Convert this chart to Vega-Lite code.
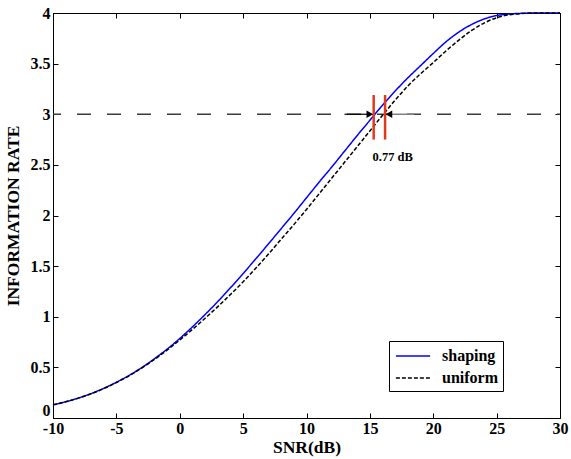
{
  "$schema": "https://vega.github.io/schema/vega-lite/v6.json",
  "width": 507,
  "height": 405,
  "autosize": {"type": "none"},
  "padding": {"left": 53, "top": 13, "right": 11, "bottom": 41},
  "background": "white",
  "config": {
    "view": {"stroke": "black", "strokeWidth": 1},
    "font": "Liberation Serif",
    "axis": {
      "grid": false,
      "domainColor": "black",
      "tickColor": "black",
      "tickSize": -5,
      "labelColor": "black",
      "labelFont": "Liberation Serif",
      "labelFontWeight": "bold",
      "labelFontSize": 16,
      "labelFlush": false,
      "labelOverlap": false,
      "labelExpr": "'' + datum.value",
      "titleFont": "Liberation Serif",
      "titleFontWeight": "bold",
      "titleFontSize": 17.5,
      "titleColor": "black"
    },
    "legend": {
      "labelFont": "Liberation Serif",
      "labelFontWeight": "bold",
      "labelFontSize": 16,
      "labelColor": "black"
    }
  },
  "resolve": {"axis": {"x": "independent", "y": "independent"}},
  "datasets": {
    "curves": [
      {"snr": -10, "rate": 0.13, "scheme": "shaping"},
      {"snr": -9, "rate": 0.16, "scheme": "shaping"},
      {"snr": -8, "rate": 0.197, "scheme": "shaping"},
      {"snr": -7, "rate": 0.241, "scheme": "shaping"},
      {"snr": -6, "rate": 0.293, "scheme": "shaping"},
      {"snr": -5, "rate": 0.353, "scheme": "shaping"},
      {"snr": -4, "rate": 0.421, "scheme": "shaping"},
      {"snr": -3, "rate": 0.498, "scheme": "shaping"},
      {"snr": -2, "rate": 0.585, "scheme": "shaping"},
      {"snr": -1, "rate": 0.68, "scheme": "shaping"},
      {"snr": 0, "rate": 0.785, "scheme": "shaping"},
      {"snr": 1, "rate": 0.9, "scheme": "shaping"},
      {"snr": 2, "rate": 1.022, "scheme": "shaping"},
      {"snr": 3, "rate": 1.15, "scheme": "shaping"},
      {"snr": 4, "rate": 1.286, "scheme": "shaping"},
      {"snr": 5, "rate": 1.427, "scheme": "shaping"},
      {"snr": 6, "rate": 1.572, "scheme": "shaping"},
      {"snr": 7, "rate": 1.72, "scheme": "shaping"},
      {"snr": 8, "rate": 1.87, "scheme": "shaping"},
      {"snr": 9, "rate": 2.02, "scheme": "shaping"},
      {"snr": 10, "rate": 2.175, "scheme": "shaping"},
      {"snr": 11, "rate": 2.33, "scheme": "shaping"},
      {"snr": 12, "rate": 2.48, "scheme": "shaping"},
      {"snr": 13, "rate": 2.635, "scheme": "shaping"},
      {"snr": 14, "rate": 2.79, "scheme": "shaping"},
      {"snr": 15, "rate": 2.94, "scheme": "shaping"},
      {"snr": 16, "rate": 3.09, "scheme": "shaping"},
      {"snr": 17, "rate": 3.23, "scheme": "shaping"},
      {"snr": 18, "rate": 3.36, "scheme": "shaping"},
      {"snr": 19, "rate": 3.48, "scheme": "shaping"},
      {"snr": 20, "rate": 3.6, "scheme": "shaping"},
      {"snr": 21, "rate": 3.715, "scheme": "shaping"},
      {"snr": 22, "rate": 3.81, "scheme": "shaping"},
      {"snr": 23, "rate": 3.885, "scheme": "shaping"},
      {"snr": 24, "rate": 3.94, "scheme": "shaping"},
      {"snr": 25, "rate": 3.975, "scheme": "shaping"},
      {"snr": 26, "rate": 3.99, "scheme": "shaping"},
      {"snr": 27, "rate": 3.997, "scheme": "shaping"},
      {"snr": 28, "rate": 4.0, "scheme": "shaping"},
      {"snr": 29, "rate": 4.0, "scheme": "shaping"},
      {"snr": 30, "rate": 4.0, "scheme": "shaping"},
      {"snr": -10, "rate": 0.13, "scheme": "uniform"},
      {"snr": -9, "rate": 0.16, "scheme": "uniform"},
      {"snr": -8, "rate": 0.196, "scheme": "uniform"},
      {"snr": -7, "rate": 0.239, "scheme": "uniform"},
      {"snr": -6, "rate": 0.29, "scheme": "uniform"},
      {"snr": -5, "rate": 0.35, "scheme": "uniform"},
      {"snr": -4, "rate": 0.417, "scheme": "uniform"},
      {"snr": -3, "rate": 0.493, "scheme": "uniform"},
      {"snr": -2, "rate": 0.578, "scheme": "uniform"},
      {"snr": -1, "rate": 0.67, "scheme": "uniform"},
      {"snr": 0, "rate": 0.77, "scheme": "uniform"},
      {"snr": 1, "rate": 0.875, "scheme": "uniform"},
      {"snr": 2, "rate": 0.985, "scheme": "uniform"},
      {"snr": 3, "rate": 1.1, "scheme": "uniform"},
      {"snr": 4, "rate": 1.22, "scheme": "uniform"},
      {"snr": 5, "rate": 1.345, "scheme": "uniform"},
      {"snr": 6, "rate": 1.48, "scheme": "uniform"},
      {"snr": 7, "rate": 1.62, "scheme": "uniform"},
      {"snr": 8, "rate": 1.765, "scheme": "uniform"},
      {"snr": 9, "rate": 1.91, "scheme": "uniform"},
      {"snr": 10, "rate": 2.06, "scheme": "uniform"},
      {"snr": 11, "rate": 2.215, "scheme": "uniform"},
      {"snr": 12, "rate": 2.37, "scheme": "uniform"},
      {"snr": 13, "rate": 2.525, "scheme": "uniform"},
      {"snr": 14, "rate": 2.68, "scheme": "uniform"},
      {"snr": 15, "rate": 2.835, "scheme": "uniform"},
      {"snr": 16, "rate": 2.99, "scheme": "uniform"},
      {"snr": 17, "rate": 3.14, "scheme": "uniform"},
      {"snr": 18, "rate": 3.28, "scheme": "uniform"},
      {"snr": 19, "rate": 3.4, "scheme": "uniform"},
      {"snr": 20, "rate": 3.51, "scheme": "uniform"},
      {"snr": 21, "rate": 3.625, "scheme": "uniform"},
      {"snr": 22, "rate": 3.73, "scheme": "uniform"},
      {"snr": 23, "rate": 3.825, "scheme": "uniform"},
      {"snr": 24, "rate": 3.9, "scheme": "uniform"},
      {"snr": 25, "rate": 3.953, "scheme": "uniform"},
      {"snr": 26, "rate": 3.982, "scheme": "uniform"},
      {"snr": 27, "rate": 3.995, "scheme": "uniform"},
      {"snr": 28, "rate": 4.0, "scheme": "uniform"},
      {"snr": 29, "rate": 4.0, "scheme": "uniform"},
      {"snr": 30, "rate": 4.0, "scheme": "uniform"}
    ]
  },
  "layer": [
    {
      "data": {"values": [{"x1": -10, "x2": 30, "y": 3}]},
      "mark": {"type": "rule", "color": "#3a3a3a", "strokeWidth": 1.3, "strokeDash": [14, 16], "strokeDashOffset": 6},
      "encoding": {
        "x": {"field": "x1", "type": "quantitative", "scale": {"domain": [-10, 30], "nice": false},
              "axis": {"orient": "top", "labels": false, "title": null, "values": [-10, -5, 0, 5, 10, 15, 20, 25, 30]}},
        "x2": {"field": "x2"},
        "y": {"field": "y", "type": "quantitative", "scale": {"domain": [0, 4], "nice": false},
              "axis": {"orient": "right", "labels": false, "title": null, "values": [0, 0.5, 1, 1.5, 2, 2.5, 3, 3.5, 4]}}
      }
    },
    {
      "data": {"name": "curves"},
      "mark": {"type": "line", "strokeWidth": 1.5, "interpolate": "monotone"},
      "encoding": {
        "x": {"field": "snr", "type": "quantitative", "scale": {"domain": [-10, 30], "nice": false},
              "axis": {"orient": "bottom", "title": "SNR(dB)", "values": [-10, -5, 0, 5, 10, 15, 20, 25, 30], "labelPadding": 7, "titlePadding": 2}},
        "y": {"field": "rate", "type": "quantitative", "scale": {"domain": [0, 4], "nice": false},
              "axis": {"orient": "left", "title": "INFORMATION RATE", "values": [0, 0.5, 1, 1.5, 2, 2.5, 3, 3.5, 4], "labelPadding": 8, "titlePadding": 8,
                       "labelBaseline": {"condition": {"test": "datum.value == 0", "value": "bottom"}, "value": "middle"}}},
        "color": {"field": "scheme", "type": "nominal",
                  "scale": {"domain": ["shaping", "uniform"], "range": ["#0000ff", "#000000"]},
                  "legend": {"title": null, "orient": "none", "legendX": 336, "legendY": 328,
                             "fillColor": "white", "strokeColor": "black", "padding": 5,
                             "symbolType": "M-1.9,0L1.9,0", "symbolSize": 324, "symbolStrokeWidth": 1.5,
                             "symbolOffset": 9, "labelOffset": 19,
                             "rowPadding": 4}},
        "strokeDash": {"field": "scheme", "type": "nominal",
                       "scale": {"domain": ["shaping", "uniform"], "range": [[1, 0], [4, 2]]},
                       "legend": {"title": null, "orient": "none", "legendX": 336, "legendY": 328,
                             "fillColor": "white", "strokeColor": "black", "padding": 5,
                             "symbolType": "M-1.9,0L1.9,0", "symbolSize": 324, "symbolStrokeWidth": 1.5,
                             "symbolOffset": 9, "labelOffset": 19,
                             "rowPadding": 4}}
      }
    },
    {
      "data": {"values": [{"x": 15.3, "y1": 2.75, "y2": 3.19}, {"x": 16.2, "y1": 2.75, "y2": 3.19}]},
      "mark": {"type": "rule", "color": "#e03a1c", "strokeWidth": 2.5},
      "encoding": {
        "x": {"field": "x", "type": "quantitative", "axis": null},
        "y": {"field": "y1", "type": "quantitative", "axis": null},
        "y2": {"field": "y2"}
      }
    },
    {
      "data": {"values": [{"x1": 13.0, "x2": 15.0, "y": 3}]},
      "mark": {"type": "rule", "color": "black", "strokeWidth": 1.2},
      "encoding": {
        "x": {"field": "x1", "type": "quantitative", "axis": null},
        "x2": {"field": "x2"},
        "y": {"field": "y", "type": "quantitative", "axis": null}
      }
    },
    {
      "data": {"values": [{"x1": 16.5, "x2": 18.5, "y": 3}]},
      "mark": {"type": "rule", "color": "#808080", "strokeWidth": 1.5},
      "encoding": {
        "x": {"field": "x1", "type": "quantitative", "axis": null},
        "x2": {"field": "x2"},
        "y": {"field": "y", "type": "quantitative", "axis": null}
      }
    },
    {
      "data": {"values": [{"x": 15.0, "y": 3}]},
      "mark": {"type": "point", "shape": "triangle-right", "filled": true, "color": "black", "size": 60, "opacity": 1},
      "encoding": {
        "x": {"field": "x", "type": "quantitative", "axis": null},
        "y": {"field": "y", "type": "quantitative", "axis": null}
      }
    },
    {
      "data": {"values": [{"x": 16.5, "y": 3}]},
      "mark": {"type": "point", "shape": "triangle-left", "filled": true, "color": "black", "size": 60, "opacity": 1},
      "encoding": {
        "x": {"field": "x", "type": "quantitative", "axis": null},
        "y": {"field": "y", "type": "quantitative", "axis": null}
      }
    },
    {
      "data": {"values": [{"x": 16.8, "y": 2.58, "label": "0.77 dB"}]},
      "mark": {"type": "text", "font": "Liberation Serif", "fontWeight": "bold", "fontSize": 12.5, "color": "black", "align": "center", "baseline": "middle"},
      "encoding": {
        "x": {"field": "x", "type": "quantitative", "axis": null},
        "y": {"field": "y", "type": "quantitative", "axis": null},
        "text": {"field": "label"}
      }
    }
  ]
}
